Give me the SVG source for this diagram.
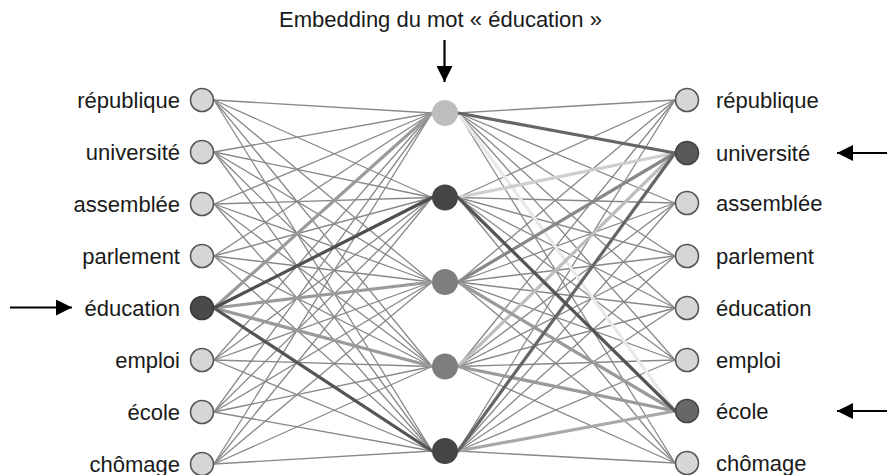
<svg xmlns="http://www.w3.org/2000/svg" width="887" height="475" viewBox="0 0 887 475">
<style>
text{font-family:"Liberation Sans",Arial,sans-serif;font-size:22px;fill:#1a1a1a}
.lab-l{text-anchor:end}
.t{stroke:#888;stroke-width:1.3;fill:none}
.k{stroke-width:3.2;fill:none;stroke-linecap:round}
.n{fill:#d6d6d6;stroke:#555;stroke-width:1.6}
.arr{stroke:#000;stroke-width:2.2;fill:none}
</style>
<defs>
<marker id="ah" markerUnits="userSpaceOnUse" markerWidth="17" markerHeight="16" viewBox="0 0 17 16" refX="16" refY="8" orient="auto">
<path d="M0,0 L16,8 L0,16 Z" fill="#000"/>
</marker>
</defs>
<rect width="887" height="475" fill="#fff"/>
<g id="connectors">
<line class="t" x1="214" y1="100" x2="432" y2="113"/><line class="t" x1="214" y1="100" x2="432" y2="197.5"/><line class="t" x1="214" y1="100" x2="432" y2="282"/><line class="t" x1="214" y1="100" x2="432" y2="366.5"/><line class="t" x1="214" y1="100" x2="432" y2="451"/>
<line class="t" x1="214" y1="152" x2="432" y2="113"/><line class="t" x1="214" y1="152" x2="432" y2="197.5"/><line class="t" x1="214" y1="152" x2="432" y2="282"/><line class="t" x1="214" y1="152" x2="432" y2="366.5"/><line class="t" x1="214" y1="152" x2="432" y2="451"/>
<line class="t" x1="214" y1="204" x2="432" y2="113"/><line class="t" x1="214" y1="204" x2="432" y2="197.5"/><line class="t" x1="214" y1="204" x2="432" y2="282"/><line class="t" x1="214" y1="204" x2="432" y2="366.5"/><line class="t" x1="214" y1="204" x2="432" y2="451"/>
<line class="t" x1="214" y1="256" x2="432" y2="113"/><line class="t" x1="214" y1="256" x2="432" y2="197.5"/><line class="t" x1="214" y1="256" x2="432" y2="282"/><line class="t" x1="214" y1="256" x2="432" y2="366.5"/><line class="t" x1="214" y1="256" x2="432" y2="451"/>
<line class="t" x1="214" y1="360" x2="432" y2="113"/><line class="t" x1="214" y1="360" x2="432" y2="197.5"/><line class="t" x1="214" y1="360" x2="432" y2="282"/><line class="t" x1="214" y1="360" x2="432" y2="366.5"/><line class="t" x1="214" y1="360" x2="432" y2="451"/>
<line class="t" x1="214" y1="412" x2="432" y2="113"/><line class="t" x1="214" y1="412" x2="432" y2="197.5"/><line class="t" x1="214" y1="412" x2="432" y2="282"/><line class="t" x1="214" y1="412" x2="432" y2="366.5"/><line class="t" x1="214" y1="412" x2="432" y2="451"/>
<line class="t" x1="214" y1="464" x2="432" y2="113"/><line class="t" x1="214" y1="464" x2="432" y2="197.5"/><line class="t" x1="214" y1="464" x2="432" y2="282"/><line class="t" x1="214" y1="464" x2="432" y2="366.5"/><line class="t" x1="214" y1="464" x2="432" y2="451"/>

<line class="t" x1="458" y1="113" x2="675" y2="100"/><line class="t" x1="458" y1="113" x2="675" y2="203"/><line class="t" x1="458" y1="113" x2="675" y2="256"/><line class="t" x1="458" y1="113" x2="675" y2="308"/><line class="t" x1="458" y1="113" x2="675" y2="360"/><line class="t" x1="458" y1="113" x2="675" y2="463"/>
<line class="t" x1="458" y1="197.5" x2="675" y2="100"/><line class="t" x1="458" y1="197.5" x2="675" y2="203"/><line class="t" x1="458" y1="197.5" x2="675" y2="256"/><line class="t" x1="458" y1="197.5" x2="675" y2="308"/><line class="t" x1="458" y1="197.5" x2="675" y2="360"/><line class="t" x1="458" y1="197.5" x2="675" y2="463"/>
<line class="t" x1="458" y1="282" x2="675" y2="100"/><line class="t" x1="458" y1="282" x2="675" y2="203"/><line class="t" x1="458" y1="282" x2="675" y2="256"/><line class="t" x1="458" y1="282" x2="675" y2="308"/><line class="t" x1="458" y1="282" x2="675" y2="360"/><line class="t" x1="458" y1="282" x2="675" y2="463"/>
<line class="t" x1="458" y1="366.5" x2="675" y2="100"/><line class="t" x1="458" y1="366.5" x2="675" y2="203"/><line class="t" x1="458" y1="366.5" x2="675" y2="256"/><line class="t" x1="458" y1="366.5" x2="675" y2="308"/><line class="t" x1="458" y1="366.5" x2="675" y2="360"/><line class="t" x1="458" y1="366.5" x2="675" y2="463"/>
<line class="t" x1="458" y1="451" x2="675" y2="100"/><line class="t" x1="458" y1="451" x2="675" y2="203"/><line class="t" x1="458" y1="451" x2="675" y2="256"/><line class="t" x1="458" y1="451" x2="675" y2="308"/><line class="t" x1="458" y1="451" x2="675" y2="360"/><line class="t" x1="458" y1="451" x2="675" y2="463"/>

<line class="k" stroke="#9a9a9a" x1="214" y1="308" x2="432" y2="113"/>
<line class="k" stroke="#9a9a9a" x1="214" y1="308" x2="432" y2="282"/>
<line class="k" stroke="#9a9a9a" x1="214" y1="308" x2="432" y2="366.5"/>
<line class="k" stroke="#4f4f4f" x1="214" y1="308" x2="432" y2="197.5"/>
<line class="k" stroke="#555" x1="214" y1="308" x2="432" y2="451"/>

<line class="k" stroke="#e8e8e8" x1="458" y1="113" x2="675" y2="411"/>
<line class="k" stroke="#cfcfcf" x1="458" y1="197.5" x2="675" y2="153"/>
<line class="k" stroke="#bdbdbd" x1="458" y1="366.5" x2="675" y2="153"/>
<line class="k" stroke="#9a9a9a" x1="458" y1="282" x2="675" y2="411"/>
<line class="k" stroke="#9a9a9a" x1="458" y1="366.5" x2="675" y2="411"/>
<line class="k" stroke="#a8a8a8" x1="458" y1="451" x2="675" y2="411"/>
<line class="k" stroke="#888" x1="458" y1="282" x2="675" y2="153"/>
<line class="k" stroke="#666" x1="458" y1="451" x2="675" y2="153"/>
<line class="k" stroke="#555" x1="458" y1="197.5" x2="675" y2="411"/>
<line class="k" stroke="#666" x1="458" y1="113" x2="675" y2="153"/>
</g>
<g id="title">
<text x="440.5" y="27" text-anchor="middle">Embedding du mot « éducation »</text>
<line class="arr" x1="444.5" y1="40" x2="444.5" y2="82" marker-end="url(#ah)"/>
</g>
<g id="in-republique"><circle class="n" cx="202" cy="100" r="11.5"/><text class="lab-l" x="180" y="107.5">république</text></g>
<g id="in-universite"><circle class="n" cx="202" cy="152" r="11.5"/><text class="lab-l" x="180" y="159.5">université</text></g>
<g id="in-assemblee"><circle class="n" cx="202" cy="204" r="11.5"/><text class="lab-l" x="180" y="211.5">assemblée</text></g>
<g id="in-parlement"><circle class="n" cx="202" cy="256" r="11.5"/><text class="lab-l" x="180" y="263.5">parlement</text></g>
<g id="in-education"><circle class="n" cx="202" cy="308" r="11.5" style="fill:#4a4a4a;stroke:#3a3a3a"/><text class="lab-l" x="180" y="315.5">éducation</text>
<line class="arr" x1="10" y1="307.5" x2="72" y2="307.5" marker-end="url(#ah)"/></g>
<g id="in-emploi"><circle class="n" cx="202" cy="360" r="11.5"/><text class="lab-l" x="180" y="367.5">emploi</text></g>
<g id="in-ecole"><circle class="n" cx="202" cy="412" r="11.5"/><text class="lab-l" x="180" y="419.5">école</text></g>
<g id="in-chomage"><circle class="n" cx="202" cy="464" r="11.5"/><text class="lab-l" x="180" y="471.5">chômage</text></g>
<g id="h1"><circle cx="445" cy="113" r="13" fill="#bdbdbd"/></g>
<g id="h2"><circle cx="445" cy="197.5" r="13" fill="#454545"/></g>
<g id="h3"><circle cx="445" cy="282" r="13" fill="#7e7e7e"/></g>
<g id="h4"><circle cx="445" cy="366.5" r="13" fill="#7e7e7e"/></g>
<g id="h5"><circle cx="445" cy="451" r="13" fill="#454545"/></g>
<g id="out-republique"><circle class="n" cx="687" cy="100" r="11.5"/><text x="716" y="107.5">république</text></g>
<g id="out-universite"><circle class="n" cx="687" cy="153" r="11.5" style="fill:#585858;stroke:#444"/><text x="716" y="160.5">université</text>
<line class="arr" x1="887" y1="153" x2="837" y2="153" marker-end="url(#ah)"/></g>
<g id="out-assemblee"><circle class="n" cx="687" cy="203" r="11.5"/><text x="716" y="210.5">assemblée</text></g>
<g id="out-parlement"><circle class="n" cx="687" cy="256" r="11.5"/><text x="716" y="263.5">parlement</text></g>
<g id="out-education"><circle class="n" cx="687" cy="308" r="11.5"/><text x="716" y="315.5">éducation</text></g>
<g id="out-emploi"><circle class="n" cx="687" cy="360" r="11.5"/><text x="716" y="367.5">emploi</text></g>
<g id="out-ecole"><circle class="n" cx="687" cy="411" r="11.5" style="fill:#676767;stroke:#444"/><text x="716" y="418.5">école</text>
<line class="arr" x1="887" y1="411" x2="837" y2="411" marker-end="url(#ah)"/></g>
<g id="out-chomage"><circle class="n" cx="687" cy="463" r="11.5"/><text x="716" y="470.5">chômage</text></g>
</svg>
